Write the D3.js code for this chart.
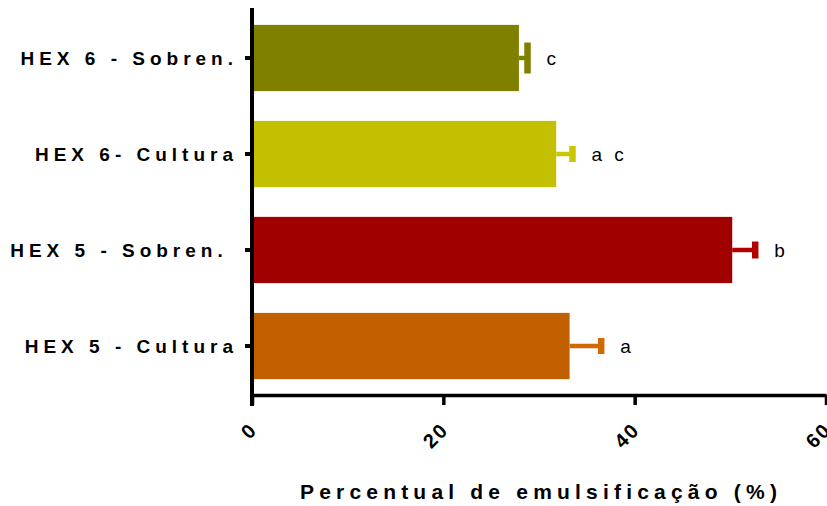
<!DOCTYPE html>
<html>
<head>
<meta charset="utf-8">
<script src="https://cdn.jsdelivr.net/npm/d3@7"></script>
<style>
  html, body { margin: 0; padding: 0; background: #fff; }
  svg { display: block; }
  text { font-family: "Liberation Sans", Arial, sans-serif; fill: #000; }
</style>
</head>
<body>
<svg id="chart" width="827" height="506"></svg>
<script>
// Emulsification percentage per sample (mean and error), with group letters
const categories = ["HEX 6 - Sobren.", "HEX 6- Cultura", "HEX 5 - Sobren. ", "HEX 5 - Cultura"];
const means = [27.9, 31.8, 50.2, 33.2];
const errors = [0.9, 1.7, 2.4, 3.3];
const groups = ["c", "a c", "b", "a"];
const xTicks = [0, 20, 40, 60];
const xTitle = "Percentual de emulsificação (%)";

const barColors = ["#808000", "#c2c000", "#a00000", "#c26000"];
const errColors = ["#808000", "#c8c800", "#b00000", "#d06a00"];
const capHalf = [15.5, 8, 8.5, 8];

const svg = d3.select("#chart");

const x = d3.scaleLinear().domain([0, 60]).range([252, 826]);
const y = d3.scaleBand().domain(categories).range([10, 394])
  .paddingInner(0.31).paddingOuter(0.155);

const rows = categories.map((c, i) => ({
  cat: c, mean: means[i], err: errors[i], grp: groups[i],
  color: barColors[i], ecolor: errColors[i], cap: capHalf[i]
}));

// Bars
svg.append("g").selectAll("rect").data(rows).join("rect")
  .attr("x", x(0))
  .attr("y", d => y(d.cat))
  .attr("width", d => x(d.mean) - x(0))
  .attr("height", y.bandwidth())
  .attr("fill", d => d.color);

// Error bars (one-sided, to the right)
const eg = svg.append("g");
eg.selectAll("line.stem").data(rows).join("line")
  .attr("class", "stem")
  .attr("x1", d => x(d.mean))
  .attr("x2", d => x(d.mean + d.err))
  .attr("y1", d => y(d.cat) + y.bandwidth() / 2)
  .attr("y2", d => y(d.cat) + y.bandwidth() / 2)
  .attr("stroke", d => d.ecolor)
  .attr("stroke-width", 4.5);
eg.selectAll("line.cap").data(rows).join("line")
  .attr("class", "cap")
  .attr("x1", d => x(d.mean + d.err))
  .attr("x2", d => x(d.mean + d.err))
  .attr("y1", d => y(d.cat) + y.bandwidth() / 2 - d.cap)
  .attr("y2", d => y(d.cat) + y.bandwidth() / 2 + d.cap)
  .attr("stroke", d => d.ecolor)
  .attr("stroke-width", 6.5);

// Significance letters
svg.append("g").selectAll("text").data(rows).join("text")
  .attr("x", d => x(d.mean + d.err) + 19)
  .attr("y", d => y(d.cat) + y.bandwidth() / 2)
  .attr("dy", "0.35em")
  .attr("xml:space", "preserve")
  .style("font-size", "19px")
  .style("letter-spacing", "3.5px")
  .text(d => d.grp);

// Y axis
const yAxis = svg.append("g")
  .attr("transform", `translate(${x(0)},0)`)
  .call(d3.axisLeft(y).tickSize(7).tickSizeOuter(0).tickPadding(7));
yAxis.select(".domain").remove();
yAxis.selectAll(".tick line").attr("stroke", "#000").attr("stroke-width", 4);
yAxis.selectAll(".tick text")
  .attr("xml:space", "preserve")
  .attr("dy", "0.36em")
  .style("font-size", "19px")
  .style("font-weight", "bold")
  .style("letter-spacing", "5px")
  .style("font-family", "'Liberation Sans', Arial, sans-serif");
svg.append("line")
  .attr("x1", x(0)).attr("x2", x(0))
  .attr("y1", 8).attr("y2", 406)
  .attr("stroke", "#000").attr("stroke-width", 4);

// X axis
const xAxis = svg.append("g")
  .attr("transform", "translate(0,395)")
  .call(d3.axisBottom(x).tickValues(xTicks).tickSize(10).tickSizeOuter(0).tickFormat(d3.format("d")));
xAxis.select(".domain").attr("stroke", "#000").attr("stroke-width", 3.5);
xAxis.selectAll(".tick line").attr("stroke", "#000").attr("stroke-width", 3.5);
xAxis.selectAll(".tick text")
  .attr("text-anchor", "end")
  .attr("transform", "translate(1,31) rotate(-45)")
  .attr("y", 0).attr("x", 0).attr("dy", "0.35em")
  .style("font-size", "20px")
  .style("font-weight", "bold")
  .style("letter-spacing", "2px")
  .style("font-family", "'Liberation Sans', Arial, sans-serif");

// X axis title
svg.append("text")
  .attr("x", (x(0) + x(60)) / 2 + 2)
  .attr("y", 499)
  .attr("text-anchor", "middle")
  .style("font-size", "21px")
  .style("font-weight", "bold")
  .style("letter-spacing", "5.2px")
  .text(xTitle);
</script>
</body>
</html>
